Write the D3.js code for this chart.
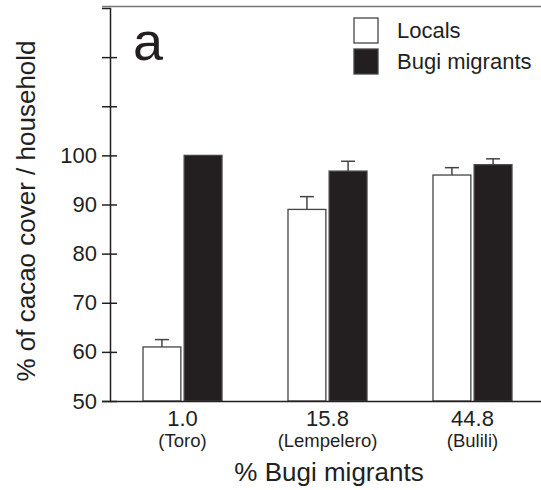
<!DOCTYPE html>
<html>
<head>
<meta charset="utf-8">
<script src="https://cdn.jsdelivr.net/npm/d3@7/dist/d3.min.js"></script>
<style>
  body { margin: 0; background: #fff; }
  text { font-family: "Liberation Sans", Arial, Helvetica, sans-serif; fill: #231f20; }
</style>
</head>
<body>
<div id="chart"></div>
<script>
// data
var sites = ["Toro", "Lempelero", "Bulili"];
var migrantPct = ["1.0", "15.8", "44.8"];
var series = ["Locals", "Bugi migrants"];
var locals = [61, 89, 96];
var localsErr = [1.5, 2.6, 1.5];
var bugi = [100, 96.8, 98.1];
var bugiErr = [0, 2.0, 1.2];
var yTicks = [50, 60, 70, 80, 90, 100, 110, 120];

var width = 541, height = 490;
var svg = d3.select("#chart").append("svg")
  .attr("width", width).attr("height", height);

var y = d3.scaleLinear().domain([50, 130]).range([401, 8]);
var x0 = d3.scaleBand().domain(sites).range([110, 545]);
var x1 = d3.scaleBand().domain(series).range([-39.5, 39.5]).paddingInner(0.08);
var fill = d3.scaleOrdinal().domain(series).range(["#ffffff", "#231f20"]);

// rows for the bars
var rows = [];
sites.forEach(function(s, i) {
  rows.push({site: s, key: series[0], v: locals[i], e: localsErr[i]});
  rows.push({site: s, key: series[1], v: bugi[i], e: bugiErr[i]});
});

// top frame line
svg.append("line")
  .attr("x1", 102).attr("x2", width).attr("y1", 6.5).attr("y2", 6.5)
  .attr("stroke", "#777").attr("stroke-width", 1.5);

// y axis, ticks crossing the axis line
var yAxis = svg.append("g")
  .attr("transform", "translate(110,0)")
  .call(d3.axisLeft(y).tickValues(yTicks).tickSize(8).tickPadding(6)
    .tickFormat(function(d) { return d <= 100 ? d : ""; }));
yAxis.select(".domain").attr("stroke", "#231f20").attr("stroke-width", 1.5);
yAxis.selectAll(".tick line").attr("x1", 7).attr("stroke", "#231f20").attr("stroke-width", 1.5);
yAxis.selectAll(".tick text").style("font-size", "22px").attr("x", -13);

// bars
var g = svg.append("g");
g.selectAll("rect").data(rows).enter().append("rect")
  .attr("x", function(d) { return x0(d.site) + x0.bandwidth() / 2 + x1(d.key); })
  .attr("y", function(d) { return y(d.v); })
  .attr("width", x1.bandwidth())
  .attr("height", function(d) { return y(50) - y(d.v); })
  .attr("fill", function(d) { return fill(d.key); })
  .attr("stroke", "#444").attr("stroke-width", 1.3);

// error bars (upper only)
var eb = g.selectAll(".err").data(rows.filter(function(d) { return d.e > 0; }))
  .enter().append("g").attr("class", "err")
  .attr("transform", function(d) {
    return "translate(" + (x0(d.site) + x0.bandwidth() / 2 + x1(d.key) + x1.bandwidth() / 2) + ",0)";
  });
eb.append("line")
  .attr("y1", function(d) { return y(d.v); })
  .attr("y2", function(d) { return y(d.v + d.e); })
  .attr("stroke", "#444").attr("stroke-width", 1.5);
eb.append("line")
  .attr("x1", -7).attr("x2", 7)
  .attr("y1", function(d) { return y(d.v + d.e); })
  .attr("y2", function(d) { return y(d.v + d.e); })
  .attr("stroke", "#444").attr("stroke-width", 1.5);

// x axis
var xAxis = svg.append("g")
  .attr("transform", "translate(0,401)")
  .call(d3.axisBottom(x0).tickSize(0).tickPadding(0)
    .tickFormat(function(d, i) { return migrantPct[i]; }));
xAxis.select(".domain").attr("stroke", "#231f20").attr("stroke-width", 1.5);
xAxis.selectAll(".tick text").style("font-size", "22px").attr("y", 25).attr("dy", 0);
xAxis.selectAll(".tick").append("text")
  .attr("y", 46).attr("text-anchor", "middle")
  .style("font-size", "18.5px")
  .text(function(d) { return "(" + d + ")"; });

// axis titles
svg.append("text")
  .attr("x", 329).attr("y", 481).attr("text-anchor", "middle")
  .style("font-size", "26px")
  .text("% Bugi migrants");
svg.append("text")
  .attr("transform", "translate(35,211) rotate(-90)")
  .attr("text-anchor", "middle")
  .style("font-size", "26px")
  .text("% of cacao cover / household");

// panel letter
svg.append("text")
  .attr("x", 133).attr("y", 60)
  .style("font-size", "54px")
  .text("a");

// legend
var leg = svg.append("g").selectAll("g").data(series).enter().append("g")
  .attr("transform", function(d, i) { return "translate(354," + (18 + i * 31) + ")"; });
leg.append("rect")
  .attr("width", 24).attr("height", 25)
  .attr("fill", function(d) { return fill(d); })
  .attr("stroke", "#444").attr("stroke-width", 1.3);
leg.append("text")
  .attr("x", 43).attr("y", 20)
  .style("font-size", "22px")
  .text(function(d) { return d; });
</script>
</body>
</html>
